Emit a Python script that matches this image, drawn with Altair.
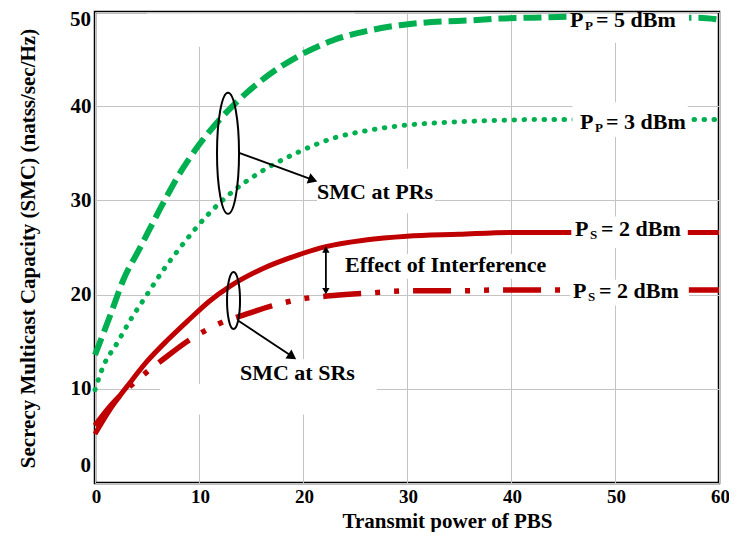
import altair as alt
import pandas as pd

# ---------------- data ----------------
pp5_x = [0, 1.5, 2.7, 4.3, 6.5, 8, 10, 12, 13.3, 16.2, 19.7, 22.9, 26.2, 29.3, 33.5, 36, 38.9, 42, 46, 50, 54, 58, 60]
pp5_y = [13.6, 17.9, 21.5, 24.9, 29.6, 32.6, 35.9, 38.6, 40.1, 42.9, 45.4, 47.0, 48.0, 48.6, 49.0, 49.1, 49.3, 49.4, 49.5, 49.5, 49.4, 49.4, 49.2]

pp3_x = [0, 0.8, 2.1, 3.4, 5, 6.5, 8.2, 10.7, 13.3, 15.9, 19.5, 22.9, 26.1, 30, 34.1, 38.9, 43, 47, 52, 56, 60]
pp3_y = [9.9, 12.4, 14.8, 17.3, 20.0, 22.5, 25.0, 28.3, 31.0, 33.0, 35.1, 36.6, 37.4, 38.0, 38.3, 38.5, 38.6, 38.6, 38.6, 38.6, 38.6]

ps_top_x = [0, 1.5, 3.4, 5, 7, 9, 11, 13, 16, 19.5, 22.2, 26, 30, 35, 40, 45, 50, 55, 60]
ps_top_y = [5.2, 7.9, 10.7, 12.9, 15.2, 17.3, 19.3, 20.9, 22.7, 24.2, 25.1, 25.8, 26.2, 26.4, 26.6, 26.6, 26.6, 26.6, 26.6]

ps_bot_x = [0, 1.5, 3.4, 5, 6.4, 9.1, 10.8, 12.3, 14.2, 17, 19.7, 22.9, 26.8, 30.3, 35.4, 38.9, 45, 50, 55, 60]
ps_bot_y = [6.1, 8.2, 10.3, 11.8, 13.0, 15.2, 16.3, 17.1, 17.8, 18.8, 19.5, 19.9, 20.2, 20.4, 20.4, 20.5, 20.5, 20.5, 20.5, 20.5]

x_ticks = [0, 10, 20, 30, 40, 50, 60]
y_ticks = [0, 10, 20, 30, 40, 50]

# curve labels
lab_main = ["P", "P", "P", "P"]
lab_sub = ["P", "P", "S", "S"]
lab_rest = ["= 5 dBm", "= 3 dBm", "= 2 dBm", "= 2 dBm"]
lab_x = [45.67, 46.63, 46.15, 45.96]
lab_y = [48.45, 37.58, 26.2, 19.68]

# free annotations
note_text = ["SMC at PRs", "SMC at SRs", "Effect of Interference"]
note_x = [21.35, 13.94, 24.04]
note_y = [30.2, 10.95, 22.4]

# ---------------- styling ----------------
FONT = "Liberation Serif"
GREEN = "#00b050"
RED = "#c00000"
GRID = "#c4c4c4"

xs = alt.Scale(domain=[0, 60], nice=False, zero=False)
ys = alt.Scale(domain=[0, 50], nice=False, zero=False)

x_axis = alt.Axis(values=x_ticks, title="Transmit power of PBS", grid=True, gridColor=GRID, gridWidth=1,
                  domain=False, ticks=False, labelFont=FONT, labelFontWeight="bold", labelFontSize=19,
                  labelColor="black", labelPadding=4, labelOffset=1, labelFlush=False,
                  titleFont=FONT, titleFontWeight="bold", titleFontSize=21, titleColor="black",
                  titleX=352, titleY=44, titleBaseline="alphabetic")
y_axis = alt.Axis(values=y_ticks, title="Secrecy Multicast Capacity (SMC) (natss/sec/Hz)", grid=True,
                  gridColor=GRID, gridWidth=1, domain=False, ticks=False, labelFont=FONT,
                  labelFontWeight="bold", labelFontSize=21, labelColor="black", labelPadding=4,
                  labelExpr="datum.value == 0 || datum.value == 50 ? '' : datum.label",
                  titleFont=FONT, titleFontWeight="bold", titleFontSize=21, titleColor="black",
                  titleX=-61, titleY=236, titleAngle=-90, titleAlign="center", titleBaseline="alphabetic")

X = alt.X("x:Q", scale=xs, axis=x_axis)
Y = alt.Y("y:Q", scale=ys, axis=y_axis)


def df(xv, yv):
    return pd.DataFrame({"x": xv, "y": yv})


# white patches that interrupt the grid (below curves)
grid_patches = pd.DataFrame({
    "x": [21.35, 6.25, 17.0, 5.0, 23.56],
    "x2": [32.7, 27.1, 27.1, 25.0, 43.75],
    "y": [28.63, 7.26, 10.5, 46.3, 21.68],
    "y2": [33.37, 10.5, 13.16, 49.84, 24.32],
})
# white patches behind the curve labels (above curves)
label_patches = pd.DataFrame({
    "x": [45.96, 45.9, 45.8, 45.7],
    "x2": [57.12, 57.0, 57.0, 57.1],
    "y": [46.74, 36.74, 24.95, 18.84],
    "y2": [49.84, 40.42, 28.3, 21.58],
})

patch_lo = alt.Chart(grid_patches).mark_rect(color="white").encode(x=X, x2="x2:Q", y=Y, y2="y2:Q")
patch_hi = alt.Chart(label_patches).mark_rect(color="white").encode(x=X, x2="x2:Q", y=Y, y2="y2:Q")

pp5 = alt.Chart(df(pp5_x, pp5_y)).mark_line(color=GREEN, strokeWidth=6, strokeDash=[18, 7],
                                           interpolate="monotone").encode(x=X, y=Y)
pp3 = alt.Chart(df(pp3_x, pp3_y)).mark_line(color=GREEN, strokeWidth=5, strokeDash=[0.5, 9.5],
                                           strokeCap="round", interpolate="monotone").encode(x=X, y=Y)
pst = alt.Chart(df(ps_top_x, ps_top_y)).mark_line(color=RED, strokeWidth=5,
                                                 interpolate="monotone").encode(x=X, y=Y)
psb = alt.Chart(df(ps_bot_x, ps_bot_y)).mark_line(color=RED, strokeWidth=5.5,
                                                 strokeDash=[38, 14, 5, 14, 5, 14],
                                                 interpolate="monotone").encode(x=X, y=Y)

# ellipses (custom symbol paths)
K = 0.5523


def ellipse(rx):
    return (f"M0,-1C{K*rx:.4f},-1,{rx:.4f},{-K:.4f},{rx:.4f},0"
            f"C{rx:.4f},{K:.4f},{K*rx:.4f},1,0,1"
            f"C{-K*rx:.4f},1,{-rx:.4f},{K:.4f},{-rx:.4f},0"
            f"C{-rx:.4f},{-K:.4f},{-K*rx:.4f},-1,0,-1Z")


ell1 = alt.Chart(df([12.79], [35.0])).mark_point(shape=ellipse(0.182), size=14641, filled=False,
                                                   color="black", strokeWidth=2, opacity=1).encode(x=X, y=Y)
ell2 = alt.Chart(df([13.32], [19.37])).mark_point(shape=ellipse(0.228), size=3249, filled=False,
                                                    color="black", strokeWidth=2, opacity=1).encode(x=X, y=Y)

# arrows
arrow_lines = pd.DataFrame({
    "x": [13.85, 13.75, 22.2],
    "y": [35.05, 17.26, 24.79],
    "x2": [20.95, 18.97, 22.2],
    "y2": [32.17, 13.42, 20.37],
})
rules = alt.Chart(arrow_lines).mark_rule(color="black", strokeWidth=1.8).encode(
    x=X, y=Y, x2="x2:Q", y2="y2:Q")

heads = pd.DataFrame({
    "x": [20.95, 18.97, 22.2, 22.2],
    "y": [32.17, 13.42, 24.79, 20.37],
    "a": [110, 124, 0, 180],
    "s": [115, 115, 55, 55],
})
head_marks = alt.Chart(heads).mark_point(shape="triangle-up", filled=True, color="black", opacity=1).encode(
    x=X, y=Y, angle=alt.Angle("a:Q", scale=None), size=alt.Size("s:Q", scale=None))

# texts
labs = pd.DataFrame({"x": lab_x, "y": lab_y, "m": lab_main, "s": lab_sub, "r": lab_rest})
txt_kw = dict(font=FONT, fontWeight="bold", color="black", align="left", baseline="alphabetic")
lab_m = alt.Chart(labs).mark_text(fontSize=22, **txt_kw).encode(x=X, y=Y, text="m:N")
lab_s = alt.Chart(labs).mark_text(fontSize=13, dx=15, dy=3, **txt_kw).encode(x=X, y=Y, text="s:N")
lab_r = alt.Chart(labs).mark_text(fontSize=22, dx=26, **txt_kw).encode(x=X, y=Y, text="r:N")

notes = pd.DataFrame({"x": note_x, "y": note_y, "t": note_text})
note_marks = alt.Chart(notes).mark_text(fontSize=22, **txt_kw).encode(x=X, y=Y, text="t:N")

# y-axis end labels (placed as in the reference)
end_labels = pd.DataFrame({"y": [1.8, 49.2], "t": ["0", "50"]})
end_marks = alt.Chart(end_labels).mark_text(font=FONT, fontWeight="bold", fontSize=21, color="black",
                                            align="right", baseline="middle").encode(
    x=alt.value(-4), y=Y, text="t:N")

chart = alt.layer(
    patch_lo, pp5, pp3, pst, psb, patch_hi, ell1, ell2, rules, head_marks,
    lab_m, lab_s, lab_r, note_marks, end_marks
).properties(
    width=624, height=471,
    autosize=alt.AutoSizeParams(type="none"),
    padding={"left": 87, "top": 4, "right": 10, "bottom": 49},
    background="white",
).configure_view(stroke="black", strokeWidth=2.5)

chart.save("out.html", embed_options={"renderer": "svg", "actions": False})
